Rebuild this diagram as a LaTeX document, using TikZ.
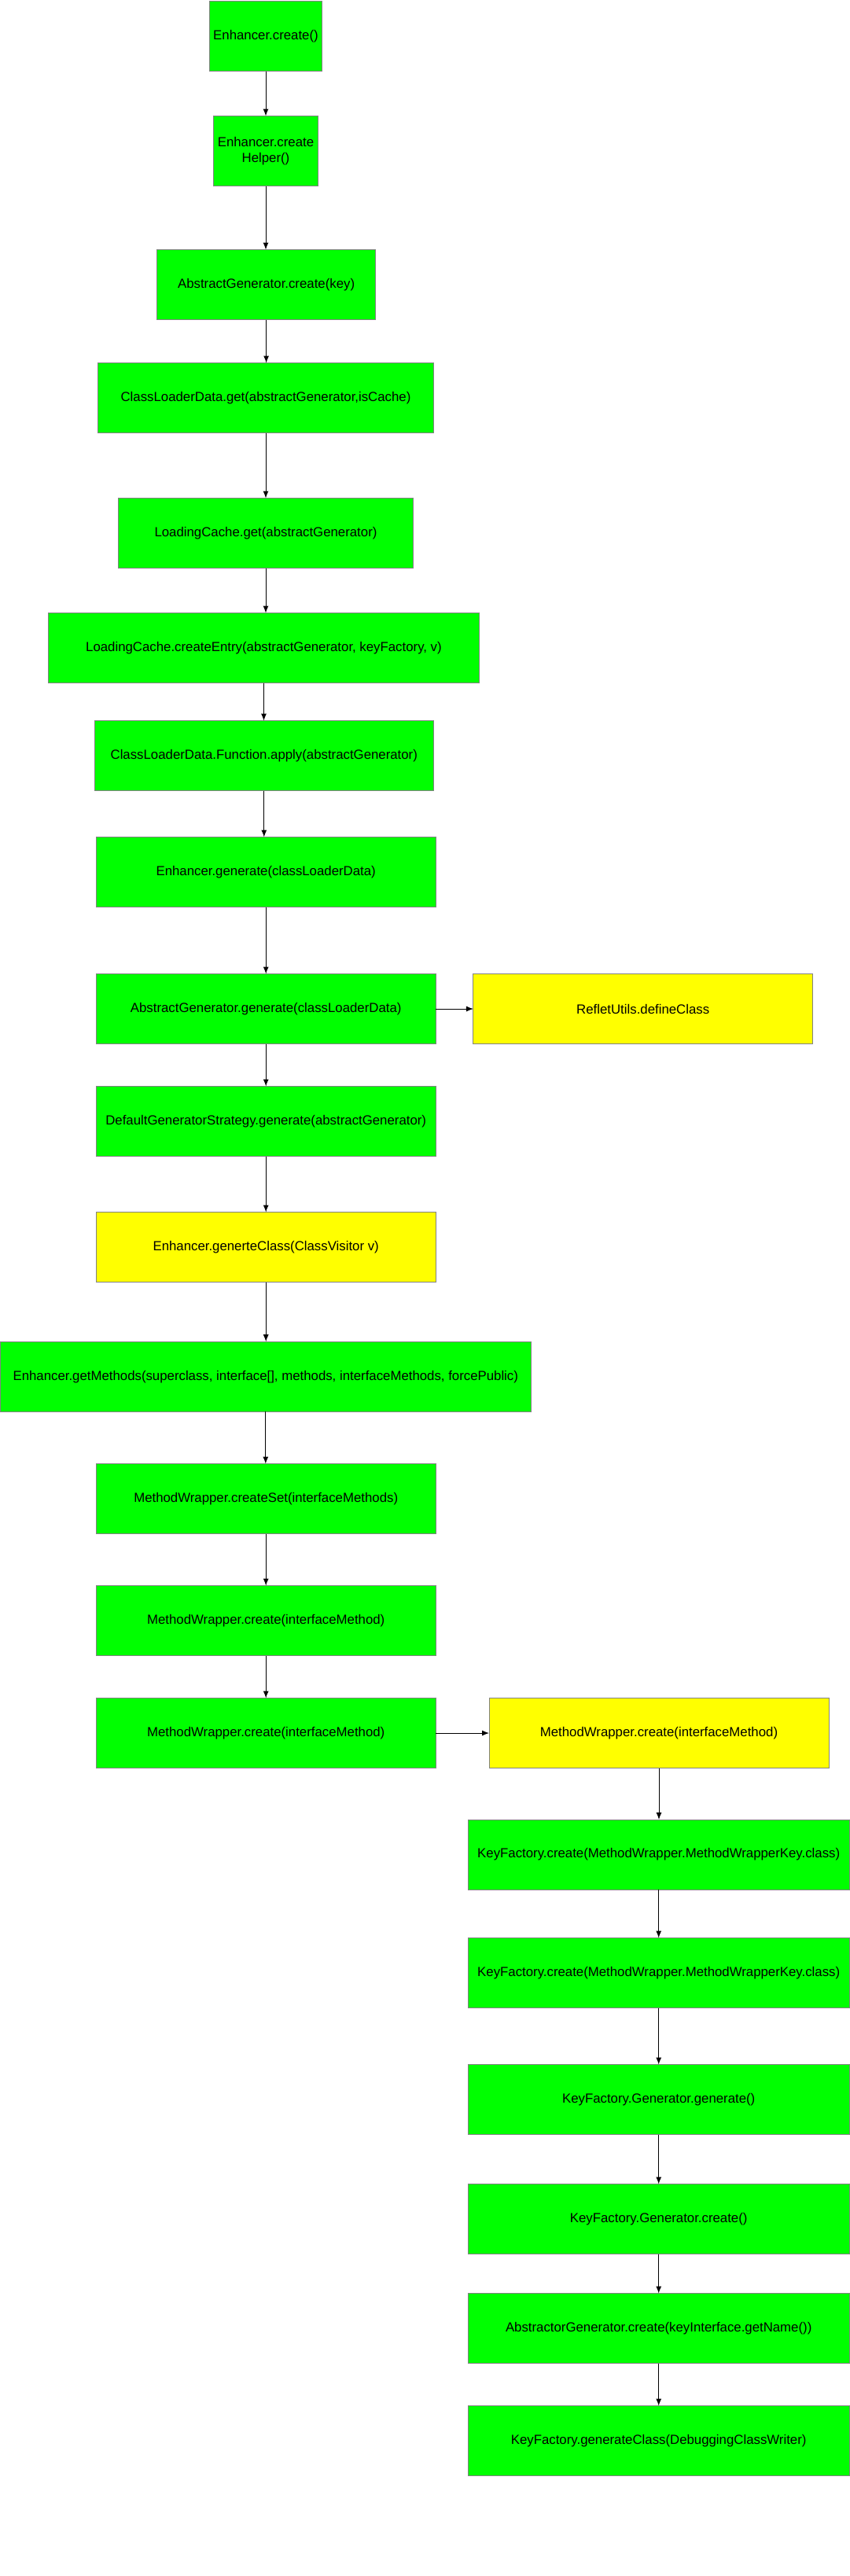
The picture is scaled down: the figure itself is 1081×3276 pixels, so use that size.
\documentclass[tikz,border=0pt]{standalone}
\usepackage{fontspec}
\setmainfont{Liberation Sans}
\usetikzlibrary{arrows.meta}

\definecolor{boxgreen}{RGB}{0,255,0}
\definecolor{boxyellow}{RGB}{255,255,0}
\definecolor{boxline}{RGB}{130,130,130}

\begin{document}
\begin{tikzpicture}[x=1pt, y=-1pt,
    box/.style={draw=boxline, line width=1pt, rectangle, minimum height=89pt,
        inner sep=0pt, outer sep=0pt, align=center, font=\fontsize{16.8}{20.5}\selectfont},
    greenbox/.style={box, fill=boxgreen},
    yellowbox/.style={box, fill=boxyellow},
    arrow/.style={-{Latex[length=9pt,width=7pt]}, line width=1pt, black}]

    % Fix the page size
    \useasboundingbox[fill=white] (0,0) rectangle (1081,3276);

    % Main column
    \node[greenbox, minimum width=143pt] (create) at (338,46) {Enhancer.create()};
    \node[greenbox, minimum width=133pt] (helper) at (338,192) {Enhancer.create\\Helper()};
    \node[greenbox, minimum width=278pt] (agcreate) at (338.6,362) {AbstractGenerator.create(key)};
    \node[greenbox, minimum width=427pt] (cldget) at (338,506) {ClassLoaderData.get(abstractGenerator,isCache)};
    \node[greenbox, minimum width=375pt] (lcget) at (338,678) {LoadingCache.get(abstractGenerator)};
    \node[greenbox, minimum width=548pt] (lcentry) at (335.5,824) {LoadingCache.createEntry(abstractGenerator, keyFactory, v)};
    \node[greenbox, minimum width=431.5pt] (cldapply) at (335.8,961) {ClassLoaderData.Function.apply(abstractGenerator)};
    \node[greenbox, minimum width=432pt] (engen) at (338.2,1109) {Enhancer.generate(classLoaderData)};
    \node[greenbox, minimum width=432pt] (aggen) at (338.2,1283) {AbstractGenerator.generate(classLoaderData)};
    \node[greenbox, minimum width=432pt] (dgsgen) at (338.2,1426) {DefaultGeneratorStrategy.generate(abstractGenerator)};
    \node[yellowbox, minimum width=432pt] (genclass) at (338.2,1586) {Enhancer.generteClass(ClassVisitor v)};
    \node[greenbox, minimum width=675pt] (getmeth) at (337.8,1750.7) {Enhancer.getMethods(superclass, interface[], methods, interfaceMethods, forcePublic)};
    \node[greenbox, minimum width=432pt] (mwset) at (338.2,1906) {MethodWrapper.createSet(interfaceMethods)};
    \node[greenbox, minimum width=432pt] (mwone) at (338.2,2061) {MethodWrapper.create(interfaceMethod)};
    \node[greenbox, minimum width=432pt] (mwtwo) at (338.2,2204) {MethodWrapper.create(interfaceMethod)};

    % Side boxes
    \node[yellowbox, minimum width=431.5pt] (define) at (817.7,1283) {RefletUtils.defineClass};
    \node[yellowbox, minimum width=432pt] (mwside) at (838,2204) {MethodWrapper.create(interfaceMethod)};

    % Right column
    \node[greenbox, minimum width=485pt] (kfone) at (837.7,2358.5) {KeyFactory.create(MethodWrapper.MethodWrapperKey.class)};
    \node[greenbox, minimum width=485pt] (kftwo) at (837.7,2509) {KeyFactory.create(MethodWrapper.MethodWrapperKey.class)};
    \node[greenbox, minimum width=485pt] (kfgen) at (837.7,2670) {KeyFactory.Generator.generate()};
    \node[greenbox, minimum width=485pt] (kfcreate) at (837.7,2822) {KeyFactory.Generator.create()};
    \node[greenbox, minimum width=485pt] (abscreate) at (837.7,2961) {AbstractorGenerator.create(keyInterface.getName())};
    \node[greenbox, minimum width=485pt] (kfclass) at (837.7,3104) {KeyFactory.generateClass(DebuggingClassWriter)};

    % Arrows down the main column
    \foreach \a/\b in {create/helper, helper/agcreate, agcreate/cldget, cldget/lcget,
        lcget/lcentry, lcentry/cldapply, cldapply/engen, engen/aggen, aggen/dgsgen,
        dgsgen/genclass, genclass/getmeth, getmeth/mwset, mwset/mwone, mwone/mwtwo}
        \draw[arrow] (\a.south) -- (\a.south |- \b.north);

    % Arrows to the side
    \draw[arrow] (aggen.east) -- (define.west);
    \draw[arrow] (mwtwo.east) -- (mwside.west);

    % Arrows down the right column
    \foreach \a/\b in {mwside/kfone, kfone/kftwo, kftwo/kfgen, kfgen/kfcreate,
        kfcreate/abscreate, abscreate/kfclass}
        \draw[arrow] (\a.south) -- (\a.south |- \b.north);

\end{tikzpicture}
\end{document}
